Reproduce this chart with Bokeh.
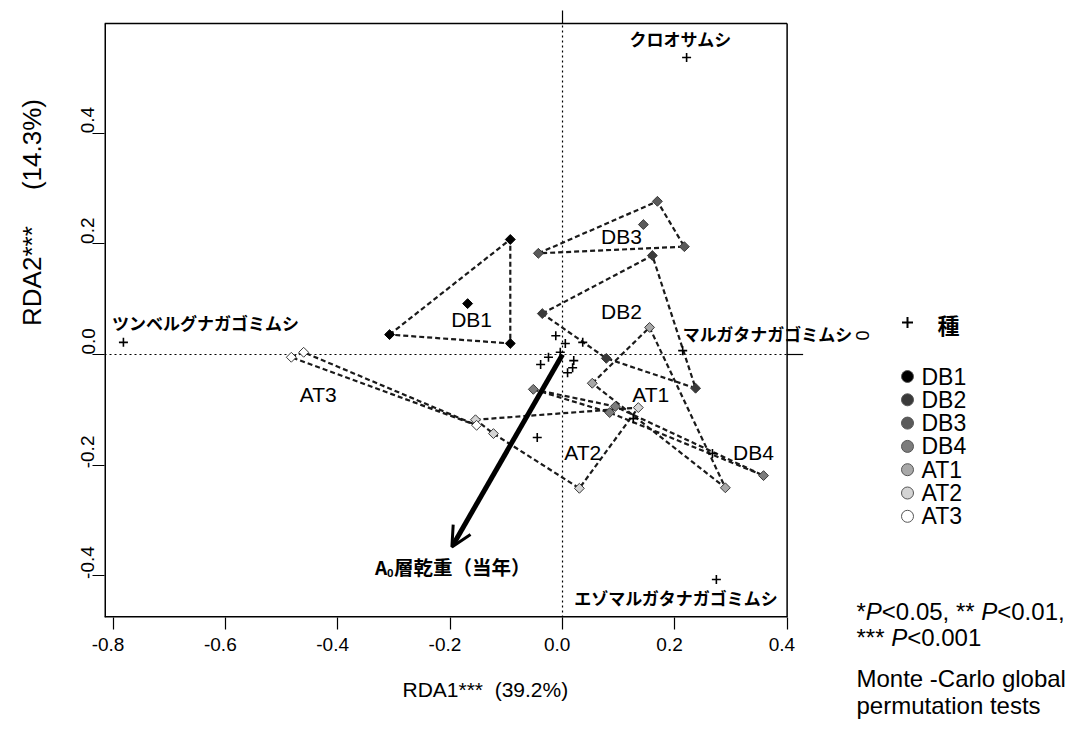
import numpy as np
from bokeh.plotting import figure
from bokeh.layouts import row
from bokeh.models import (Range1d, FixedTicker, Arrow, OpenHead, Label,
                          ColumnDataSource, CustomJSTickFormatter)
from bokeh.core.properties import value
from bokeh.embed import file_html
from bokeh.resources import INLINE

NB = "\u00a0"

# ---------------- data ----------------
x_ticks = [-0.8, -0.6, -0.4, -0.2, 0.0, 0.2, 0.4]
y_ticks = [-0.4, -0.2, 0.0, 0.2, 0.4]
x_title = NB * 2 + "RDA1***" + NB * 2 + "(39.2%)"
y_title = "RDA2***" + NB * 5 + "(14.3%)"

species_x = [0.221, -0.782, 0.214, 0.274, -0.012, 0.005, 0.036, -0.025, -0.039,
             -0.004, 0.020, 0.009, 0.018, -0.045, 0.126, 0.267]
species_y = [0.537, 0.022, 0.007, -0.407, 0.034, 0.020, 0.022, -0.005, -0.018,
             0.004, -0.011, -0.033, -0.024, -0.150, -0.116, -0.179]
species_names = ["クロオサムシ", "ツンベルグナガゴミムシ", "マルガタナガゴミムシ",
                 "エゾマルガタナガゴミムシ"]

groups = ["DB1", "DB2", "DB3", "DB4", "AT1", "AT2", "AT3"]
db1_x = [-0.308, -0.093, -0.093, -0.169]
db1_y = [0.036, 0.208, 0.020, 0.092]
db2_x = [-0.036, 0.160, 0.237, 0.078]
db2_y = [0.074, 0.179, -0.061, -0.007]
db3_x = [-0.043, 0.169, 0.217, 0.144]
db3_y = [0.183, 0.277, 0.195, 0.235]
db4_x = [-0.052, 0.094, 0.358, 0.084]
db4_y = [-0.063, -0.094, -0.219, -0.105]
at1_x = [0.053, 0.155, 0.290]
at1_y = [-0.052, 0.049, -0.241]
at2_x = [-0.155, 0.135, 0.030, -0.123]
at2_y = [-0.118, -0.096, -0.242, -0.143]
at3_x = [-0.483, -0.461, -0.153]
at3_y = [-0.005, 0.004, -0.128]
hull_counts = [3, 4, 3, 4, 3, 4, 3]   # first n sites of each group form its hull

env_name_main = "層乾重（当年）"
env_x = -0.197
env_y = -0.348

legend_title = "種"
note_lines = [
    [("*", False), ("P", True), ("<0.05, ** ", False), ("P", True), ("<0.01,", False)],
    [("*** ", False), ("P", True), ("<0.001", False)],
    [("Monte -Carlo global", False)],
    [("permutation tests", False)],
]

group_x = [db1_x, db2_x, db3_x, db4_x, at1_x, at2_x, at3_x]
group_y = [db1_y, db2_y, db3_y, db4_y, at1_y, at2_y, at3_y]

# ---------------- style / layout ----------------
group_colors = ["#000000", "#3a3a3a", "#5a5a5a", "#7c7c7c", "#a8a8a8", "#d4d4d4", "#ffffff"]
group_label_pos = [(-0.162, 0.063), (0.105, 0.078), (0.105, 0.213), (0.340, -0.177),
                   (0.157, -0.072), (0.036, -0.177), (-0.435, -0.072)]
species_label_off = [(-6, 19, "center"), (82, 20, "center"), (0, 17, "left"), (-40, -18, "center")]

SANS = "Liberation Sans"
CJK = "Noto Sans CJK JP"

H = 724
PX_PER_X = 561.5
PX_PER_Y = 553.0
X0 = -0.8157            # left edge of the plot box
WL = 56                 # width of left title strip
WA_END = 854            # right end (page px) of main figure
FL = 104                # frame left (page px)
BOX_TOP_PX, BOX_BOT_PX = 23, 617
x_end = X0 + (WA_END - FL) / PX_PER_X
y_top = (354 - BOX_TOP_PX) / PX_PER_Y
y_bot = (354 - BOX_BOT_PX) / PX_PER_Y
y_frame_top = 354 / PX_PER_Y
box_r = x_ticks[-1]


def strip(x0, w):
    f = figure(width=w, height=H, frame_width=w, frame_height=H,
               x_range=Range1d(x0, x0 + w), y_range=Range1d(H, 0),
               output_backend="svg", toolbar_location=None, x_axis_type=None,
               y_axis_type=None, min_border=0, outline_line_color=None,
               background_fill_color="white", border_fill_color="white")
    if "frame_align" in f.properties():
        f.frame_align = False
    f.grid.visible = False
    return f


# ---------------- left strip: y-axis title ----------------
pl = strip(0, WL)
pl.text(x=[31], y=[212], text=[y_title], angle=np.pi / 2, text_font=value(SANS),
        text_font_size=value("26px"), text_align="center", text_baseline="middle",
        text_color="black")

# ---------------- main plot ----------------
p = figure(width=WA_END - WL, height=H, frame_width=WA_END - FL, frame_height=BOX_BOT_PX,
           x_range=Range1d(X0, x_end), y_range=Range1d(y_bot, y_frame_top),
           output_backend="svg", toolbar_location=None,
           min_border_left=FL - WL, min_border_right=0, min_border_top=0,
           min_border_bottom=H - BOX_BOT_PX,
           background_fill_color="white", border_fill_color="white")
if "frame_align" in p.properties():
    p.frame_align = False
p.grid.visible = False
p.outline_line_color = None

fmt_x = CustomJSTickFormatter(code="return tick.toFixed(1) + '%s';" % (NB * 2))
fmt_y = CustomJSTickFormatter(code="return '%s' + tick.toFixed(1);" % (NB * 5))
for ax, ticks, fmt in ((p.xaxis, x_ticks, fmt_x), (p.yaxis, y_ticks, fmt_y)):
    ax.ticker = FixedTicker(ticks=ticks)
    ax.formatter = fmt
    ax.axis_line_color = None
    ax.major_tick_out = 12
    ax.major_tick_in = 0
    ax.minor_tick_out = 0
    ax.minor_tick_in = 0
    ax.major_tick_line_color = "black"
    ax.major_tick_line_width = 1.2
    ax.major_label_text_font = SANS
    ax.major_label_text_font_size = "19px"
    ax.major_label_text_color = "black"
    ax.axis_label_text_font = SANS
    ax.axis_label_text_font_style = "normal"
    ax.axis_label_text_font_size = "21px"
    ax.axis_label_text_color = "black"
p.xaxis.bounds = (X0, box_r)
p.xaxis.major_label_standoff = 4
p.xaxis.axis_label = x_title
p.xaxis.axis_label_standoff = 20
p.yaxis.major_label_standoff = -6
p.yaxis.major_label_orientation = "vertical"

# plot box
p.segment(x0=[X0, X0, X0], y0=[y_top, y_bot, y_bot], x1=[box_r, box_r, X0],
          y1=[y_top, y_bot, y_top], line_color="black", line_width=[1.5, 3, 3])
p.segment(x0=[box_r], y0=[y_bot], x1=[box_r], y1=[y_top], line_color="black", line_width=1.5)
# ticks at origin on the right and top sides
p.segment(x0=[box_r, 0.0], y0=[0.0, y_top], x1=[box_r + 16 / PX_PER_X, 0.0],
          y1=[0.0, y_top + 13 / PX_PER_Y], line_color="black", line_width=1.2)

# origin lines
p.segment(x0=[X0, 0.0], y0=[0.0, y_bot], x1=[box_r, 0.0], y1=[0.0, y_top], line_color="black",
          line_dash="2 3", line_width=1.2)

# hulls
hull_xs = [gx[:n] for gx, n in zip(group_x, hull_counts)]
hull_ys = [gy[:n] for gy, n in zip(group_y, hull_counts)]
p.patches(xs=hull_xs, ys=hull_ys, fill_color=None, line_color="#1a1a1a",
          line_width=2.2, line_dash="5 3")

# species
p.scatter(species_x, species_y, marker="cross", size=9, line_width=1.6, line_color="black")

# env arrow
src_env = ColumnDataSource(dict(x0=[0.0], y0=[0.0], x1=[env_x], y1=[env_y]))
p.add_layout(Arrow(source=src_env, x_start="x0", y_start="y0", x_end="x1", y_end="y1",
                   line_width=5, line_color="black",
                   end=OpenHead(size=20, line_width=3, line_color="black")))

# sites
for gx, gy, col in zip(group_x, group_y, group_colors):
    p.scatter(gx, gy, marker="square", angle=np.pi / 4, size=7, fill_color=col,
              line_color="#3a3a3a" if col != "#000000" else "black", line_width=1)

# group labels
for g, (lx, ly) in zip(groups, group_label_pos):
    p.add_layout(Label(x=lx, y=ly, text=g, text_font=SANS, text_font_size="21px",
                       text_align="center", text_baseline="middle", text_color="black"))

# species labels
for name, sx, sy, (dx, dy, al) in zip(species_names, species_x, species_y, species_label_off):
    p.add_layout(Label(x=sx, y=sy, x_offset=dx, y_offset=dy, text=name, text_font=CJK,
                       text_font_style="bold", text_font_size="17px", text_align=al,
                       text_baseline="middle", text_color="black"))

# env label A0層乾重（当年）
for txt, dx, dy, fs in (("A", -77, -20, "19px"), ("0", -65, -26, "11px"),
                        (env_name_main, -58, -20, "19.5px")):
    p.add_layout(Label(x=env_x, y=env_y, x_offset=dx, y_offset=dy, text=txt, text_font=CJK,
                       text_font_style="bold", text_font_size=fs, text_align="left",
                       text_baseline="middle", text_color="black"))

# ---------------- right strip: legend + notes (page-pixel coordinates) ----------------
WB = 218
pb = strip(WA_END, WB)

# right-axis label at origin
pb.text(x=[862], y=[335], text=["0"], angle=np.pi / 2, text_font=value(SANS),
        text_font_size=value("18px"), text_align="center", text_baseline="middle",
        text_color="black")

# legend
pb.scatter(x=[907], y=[322], marker="cross", size=11, line_width=2, line_color="black")
pb.text(x=[937], y=[323], text=[legend_title], text_font=value(CJK), text_font_style="bold",
        text_font_size=value("22px"), text_align="left", text_baseline="middle",
        text_color="black")
leg_y = [376 + 23.3 * i for i in range(len(groups))]
pb.scatter(x=[907] * len(groups), y=leg_y, marker="circle", size=12, fill_color=group_colors,
           line_color="#555555", line_width=1)
pb.text(x=[921] * len(groups), y=leg_y, text=groups, text_font=value(SANS),
        text_font_size=value("23px"), text_align="left", text_baseline="middle",
        text_color="black")

# notes with italic P
WID = {'*': .389, 'P': .667, '<': .584, '0': .556, '.': .278, '5': .556, ',': .278,
       ' ': .278, '1': .556}
FS = 24
note_y = [611, 637, 678, 705]
nx, ny, nt, ix, iy, it = [], [], [], [], [], []
for pieces, yy in zip(note_lines, note_y):
    x = 856
    for txt, ital in pieces:
        if ital:
            ix.append(x); iy.append(yy); it.append(txt)
        else:
            nx.append(x); ny.append(yy); nt.append(txt)
        x += sum(WID.get(c, .556) for c in txt) * FS
pb.text(x=nx, y=ny, text=nt, text_font=value(SANS), text_font_size=value(f"{FS}px"),
        text_align="left", text_baseline="middle", text_color="black")
pb.text(x=ix, y=iy, text=it, text_font=value(SANS), text_font_size=value(f"{FS}px"),
        text_font_style="italic", text_align="left", text_baseline="middle", text_color="black")

layout = row(pl, p, pb, spacing=0)
open("out.html", "w").write(file_html(layout, INLINE))
